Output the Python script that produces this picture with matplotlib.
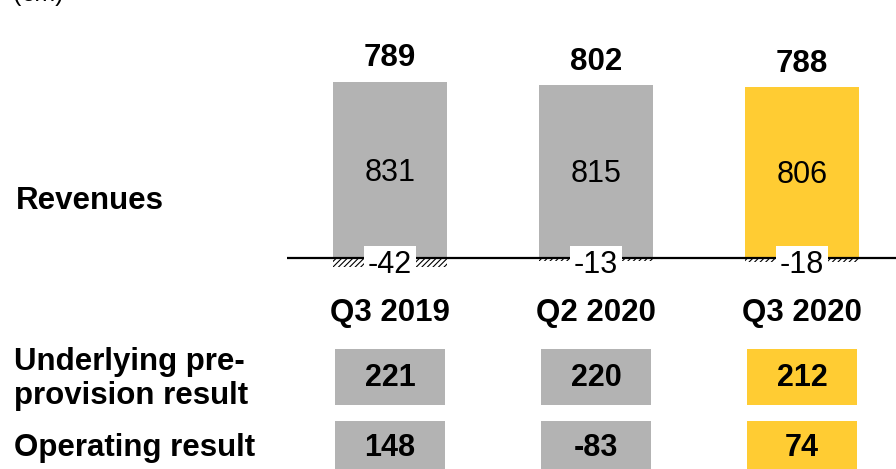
import matplotlib
matplotlib.use("Agg")
import matplotlib.pyplot as plt
from matplotlib.patches import Rectangle

plt.rcParams['font.family'] = ['Liberation Sans', 'DejaVu Sans']
plt.rcParams['hatch.linewidth'] = 0.8

categories = ["Q3 2019", "Q2 2020", "Q3 2020"]
gross_revenues = [831, 815, 806]
adjustments = [-42, -13, -18]
net_revenues = [789, 802, 788]
underlying_ppr = [221, 220, 212]
operating_result = [148, -83, 74]
row_labels = ["Revenues", "Underlying pre-\nprovision result", "Operating result"]
unit_label = "(€m)"

GRAY = "#B3B3B3"
YELLOW = "#FFCC33"
colors = [GRAY, GRAY, YELLOW]

W, H = 896, 469
fig = plt.figure(figsize=(W / 100, H / 100), dpi=100)

# bar axes
x0_px, x1_px = 287, 896
top_px, bot_px = 40, 275
ax = fig.add_axes([x0_px / W, 1 - bot_px / H, (x1_px - x0_px) / W, (bot_px - top_px) / H])
scale = (258 - 82) / 831.0
ax.set_xlim(-0.5, 2.456)
ax.set_ylim(-(bot_px - 258) / scale, (258 - top_px) / scale)
ax.axis('off')

xs = list(range(len(categories)))
ax.bar(xs, gross_revenues, width=0.553, color=colors, linewidth=0, zorder=2)
ax.bar(xs, adjustments, width=0.553, color='white', edgecolor='black',
       linewidth=0, hatch='//////', zorder=2)
ax.axhline(0, color='black', lw=1.6, zorder=3)

for x, g, n, a in zip(xs, gross_revenues, net_revenues, adjustments):
    ax.annotate(f"{g}", (x, g / 2), xytext=(0, -2), textcoords='offset points',
                ha='center', va='center', fontsize=22, zorder=4)
    ax.annotate(f"{n}", (x, g), xytext=(0, 17), textcoords='offset points',
                ha='center', va='center', fontsize=22.5, fontweight='bold')
    ax.annotate(f"{a}", (x, 0), xytext=(0, -5), textcoords='offset points',
                ha='center', va='center', fontsize=22, zorder=5,
                bbox=dict(boxstyle='square,pad=0.12', fc='white', ec='none'))

# lower table axes (pixel y coords, shared x layout)
ax2 = fig.add_axes([x0_px / W, 0, (x1_px - x0_px) / W, 1])
ax2.set_xlim(-0.5, 2.456)
ax2.set_ylim(H, 0)
ax2.axis('off')

for x, c in zip(xs, categories):
    ax2.text(x, 313, c, ha='center', va='center', fontsize=22.5, fontweight='bold')

bw = 0.535
for row_vals, (y0, y1, yc) in [(underlying_ppr, (349, 405, 378)), (operating_result, (421, 478, 448))]:
    for x, v, col in zip(xs, row_vals, colors):
        ax2.add_patch(Rectangle((x - bw / 2, y0), bw, y1 - y0, fc=col, ec='none'))
        ax2.text(x, yc, f"{v}", ha='center', va='center', fontsize=22, fontweight='bold')

# left labels
fig.text(16 / W, 1 - 201 / H, row_labels[0], ha='left', va='center',
         fontsize=22.5, fontweight='bold')
fig.text(14 / W, 1 - 379 / H, row_labels[1], ha='left', va='center',
         fontsize=22.5, fontweight='bold', linespacing=1.17)
fig.text(14 / W, 1 - 448 / H, row_labels[2], ha='left', va='center',
         fontsize=22.5, fontweight='bold')
fig.text(12 / W, 1 - (-6) / H, unit_label, ha='left', va='center', fontsize=18)

fig.savefig("out.png", dpi=100)
